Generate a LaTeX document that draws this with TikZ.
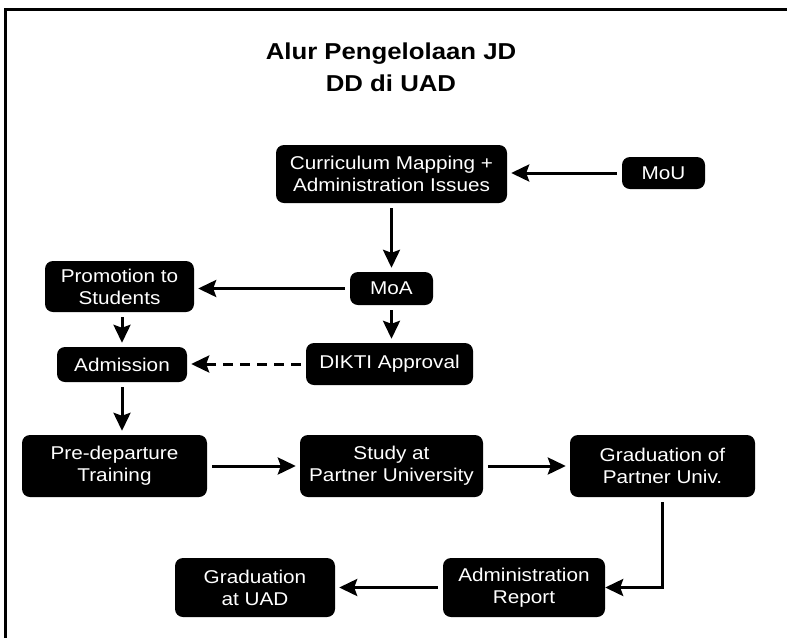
\documentclass[tikz,border=0pt]{standalone}
\usepackage{fontspec}
\setmainfont[FakeStretch=1.12]{Liberation Sans}
\usetikzlibrary{arrows.meta}

\begin{document}
\begin{tikzpicture}[x=1pt, y=-1pt,
  box/.style={fill=black, text=white, rounded corners=8pt, align=center, inner sep=0pt, font=\fontsize{18.5}{22}\selectfont},
  flow/.style={line width=3pt, -{Stealth[length=18pt, width=17pt, inset=3pt]}, shorten <=5pt, shorten >=4pt}]
\useasboundingbox (0,0) rectangle (787,638);
\draw[line width=3pt] (787,9) -- (5,9) -- (5,638);
\node[font=\fontsize{23}{32}\selectfont\bfseries, align=center] (title) at (391,67) {Alur Pengelolaan JD\\DD di UAD};
% boxes
\node[box, minimum width=231pt, minimum height=58pt] (curr) at (391.5,174) {Curriculum Mapping +\\Administration Issues};
\node[box, minimum width=83pt, minimum height=32pt] (mou) at (663.5,173) {MoU};
\node[box, minimum width=83pt, minimum height=33pt] (moa) at (391.5,288.5) {MoA};
\node[box, minimum width=149pt, minimum height=51pt] (promo) at (119.5,286.5) {Promotion to\\Students};
\node[box, minimum width=130pt, minimum height=35pt] (adm) at (122,364.5) {Admission};
\node[box, minimum width=167pt, minimum height=42pt] (dikti) at (389.5,364) {DIKTI Approval};
\node[box, minimum width=185pt, minimum height=62pt] (pre) at (114.5,466) {Pre-departure\\Training};
\node[box, minimum width=183pt, minimum height=62pt] (study) at (391.5,466) {Study at\\Partner University};
\node[box, minimum width=185pt, minimum height=62pt] (gradp) at (662.5,466) {Graduation of\\Partner Univ.};
\node[box, minimum width=162pt, minimum height=59pt] (report) at (524,587.5) {Administration\\Report};
\node[box, minimum width=160pt, minimum height=59pt] (graduad) at (255,587.5) {Graduation\\at UAD};
% arrows
\draw[flow] (mou.west) -- (mou.west -| curr.east);
\draw[flow] (curr) -- (moa);
\draw[flow] (moa.west) -- (moa.west -| promo.east);
\draw[flow] (moa.south) -- (moa.south |- dikti.north);
\draw[flow] (adm.north |- promo.south) -- (adm.north);
\draw[flow, dash pattern=on 10pt off 7pt] (dikti.west) -- (dikti.west -| adm.east);
\draw[flow] (adm.south) -- (adm.south |- pre.north);
\draw[flow] (pre) -- (study);
\draw[flow] (study) -- (gradp);
\draw[flow, shorten >=0pt] (gradp.south) |- (report.east);
\draw[flow] (report) -- (graduad);
\end{tikzpicture}
\end{document}
